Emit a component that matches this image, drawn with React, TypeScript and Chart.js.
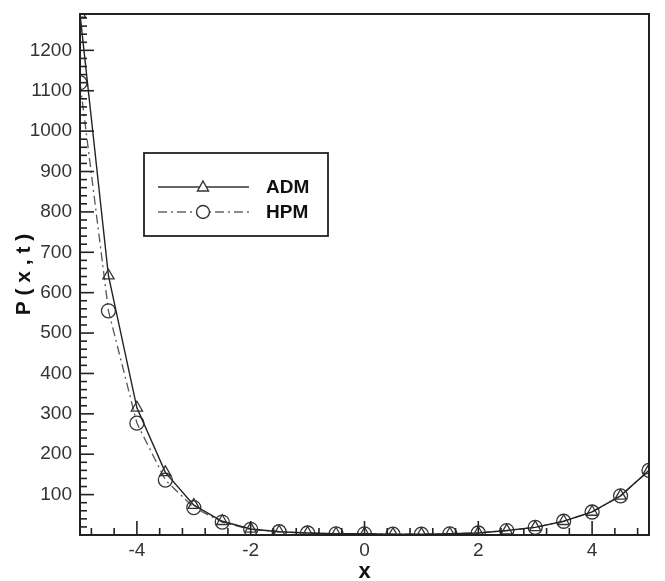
import React, { useEffect, useRef } from "react";
import { Chart, registerables } from "chart.js";
Chart.register(...registerables);

const xValues = [-5, -4.5, -4, -3.5, -3, -2.5, -2, -1.5, -1, -0.5, 0, 0.5, 1, 1.5, 2, 2.5, 3, 3.5, 4, 4.5, 5];
const admValues = [1290, 642, 315, 155, 74, 34, 15, 8, 5, 3, 3, 2, 2, 3, 5, 11, 19, 34, 57, 97, 160];
const hpmValues = [1120, 555, 277, 136, 68, 32, 14, 8, 5, 3, 3, 2, 2, 3, 5, 11, 19, 34, 57, 97, 160];
const xTickValues = [-4, -2, 0, 2, 4];
const yTickValues = [100, 200, 300, 400, 500, 600, 700, 800, 900, 1000, 1100, 1200];
const seriesNames = ["ADM", "HPM"];

const FONT = "'Liberation Sans', Arial, sans-serif";

const framePlugin = {
  id: "frame",
  afterDatasetsDraw(chart: any) {
    const { ctx, chartArea: a, scales } = chart;
    const xs = scales.x;
    const ys = scales.y;
    ctx.save();
    ctx.strokeStyle = "#222";
    ctx.lineWidth = 1.6;
    for (let v = -4.8; v < 5; v += 0.4) {
      const vv = Math.round(v * 10) / 10;
      const px = xs.getPixelForValue(vv);
      const major = xTickValues.includes(vv);
      ctx.beginPath();
      ctx.moveTo(px, a.bottom);
      ctx.lineTo(px, a.bottom - (major ? 14 : 7));
      ctx.stroke();
    }
    for (let v = 20; v < 1290; v += 20) {
      const py = ys.getPixelForValue(v);
      const major = v % 100 === 0;
      ctx.beginPath();
      ctx.moveTo(a.left, py);
      ctx.lineTo(a.left + (major ? 14 : 7), py);
      ctx.stroke();
    }
    ctx.lineWidth = 2;
    ctx.strokeRect(a.left, a.top, a.right - a.left, a.bottom - a.top);

    // legend box
    const bx = a.left + 64, by = a.top + 139, bw = 184, bh = 83;
    ctx.lineWidth = 1.8;
    ctx.strokeStyle = "#222";
    ctx.strokeRect(bx, by, bw, bh);
    const rows = [
      { y: by + 34, dash: [] as number[], color: "#333", marker: "tri" },
      { y: by + 59, dash: [9, 4, 2, 4], color: "#666", marker: "circ" },
    ];
    rows.forEach((r, i) => {
      ctx.setLineDash(r.dash);
      ctx.strokeStyle = r.color;
      ctx.lineWidth = 1.4;
      ctx.beginPath();
      ctx.moveTo(bx + 14, r.y);
      ctx.lineTo(bx + 105, r.y);
      ctx.stroke();
      ctx.setLineDash([]);
      ctx.strokeStyle = "#333";
      ctx.fillStyle = "#fff";
      const cx = bx + 59;
      ctx.beginPath();
      if (r.marker === "tri") {
        ctx.moveTo(cx, r.y - 6);
        ctx.lineTo(cx + 5.5, r.y + 4);
        ctx.lineTo(cx - 5.5, r.y + 4);
        ctx.closePath();
      } else {
        ctx.arc(cx, r.y, 6.5, 0, Math.PI * 2);
      }
      ctx.fill();
      ctx.stroke();
      ctx.fillStyle = "#111";
      ctx.font = `bold 19px ${FONT}`;
      ctx.textBaseline = "middle";
      ctx.fillText(seriesNames[i], bx + 122, r.y + 1);
    });
    ctx.restore();
  },
};

export default function App() {
  const ref = useRef<HTMLCanvasElement>(null);
  useEffect(() => {
    const chart = new Chart(ref.current!, {
      type: "line",
      data: {
        datasets: [
          {
            label: seriesNames[0],
            data: xValues.map((x, i) => ({ x, y: admValues[i] })),
            borderColor: "#222",
            borderWidth: 1.4,
            pointStyle: "triangle",
            pointRadius: 6.5,
            pointBorderColor: "#333",
            pointBackgroundColor: "rgba(255,255,255,0)",
            pointBorderWidth: 1.3,
            tension: 0,
          },
          {
            label: seriesNames[1],
            data: xValues.map((x, i) => ({ x, y: hpmValues[i] })),
            borderColor: "#555",
            borderWidth: 1.3,
            borderDash: [9, 4, 2, 4],
            pointStyle: "circle",
            pointRadius: 7,
            pointBorderColor: "#333",
            pointBackgroundColor: "rgba(255,255,255,0)",
            pointBorderWidth: 1.3,
            tension: 0,
          },
        ],
      },
      options: {
        animation: false,
        responsive: false,
        maintainAspectRatio: false,
        layout: { padding: { left: 0, top: 14, right: 16, bottom: 0 } },
        plugins: { legend: { display: false }, tooltip: { enabled: false } },
        scales: {
          x: {
            type: "linear",
            min: -5,
            max: 5,
            afterBuildTicks: (s: any) => { s.ticks = xTickValues.map((v) => ({ value: v })); },
            afterFit: (s: any) => { s.height = 46; s.paddingLeft = 0; s.paddingRight = 0; },
            grid: { display: false, drawTicks: false },
            border: { display: false },
            ticks: { color: "#333", font: { family: FONT, size: 19 }, padding: 4, maxRotation: 0, callback: (v: any) => String(v) },
            title: { display: true, text: "x", color: "#111", font: { family: FONT, size: 22, weight: "bold", lineHeight: 0.8 }, padding: { top: 0, bottom: 0 } },
          },
          y: {
            type: "linear",
            min: 0,
            max: 1290,
            afterBuildTicks: (s: any) => { s.ticks = yTickValues.map((v) => ({ value: v })); },
            afterFit: (s: any) => { s.width = 80; s.paddingTop = 0; s.paddingBottom = 0; },
            grid: { display: false, drawTicks: false },
            border: { display: false },
            ticks: { color: "#333", font: { family: FONT, size: 19 }, padding: 8, callback: (v: any) => String(v) },
            title: { display: true, text: "P ( x , t )", color: "#111", font: { family: FONT, size: 21, weight: "bold" }, padding: { top: 12, bottom: 0 } },
          },
        },
      },
      plugins: [framePlugin],
    } as any);
    return () => chart.destroy();
  }, []);
  return (
    <div style={{ position: "fixed", left: 0, top: 0, width: 665, height: 581, background: "#fff" }}>
      <canvas ref={ref} width={665} height={581} style={{ width: 665, height: 581 }} />
    </div>
  );
}
